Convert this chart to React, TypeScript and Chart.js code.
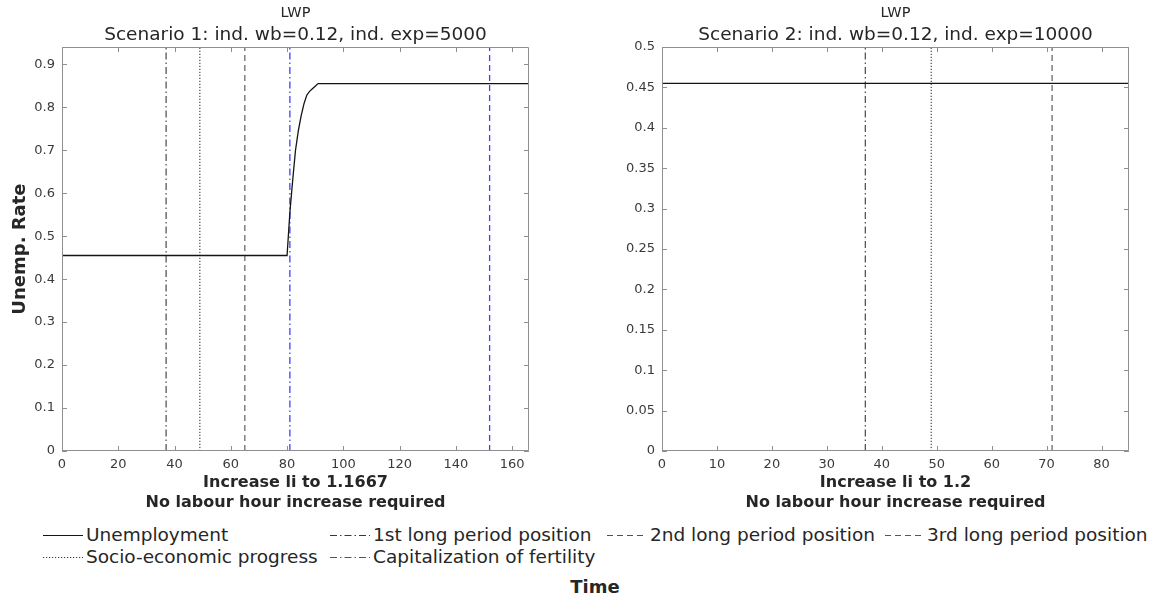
import React, { useEffect, useRef } from 'react';
import { Chart, registerables } from 'chart.js';

Chart.register(...registerables);

const FONT = "'DejaVu Sans', 'Liberation Sans', sans-serif";
const TEXT = '#262626';
const TICK_TEXT = '#3a3a3a';
const BOX = '#8f8f8f';

// ---------- Scenario 1 data ----------
const s1Time = [0, 80, 81, 82, 83, 84, 85, 86, 87, 88, 89, 90, 91, 166];
const s1Unemp = [0.455, 0.455, 0.555, 0.63, 0.7, 0.745, 0.78, 0.808, 0.828, 0.837, 0.843, 0.849, 0.855, 0.855];
const s1XTicks = [0, 20, 40, 60, 80, 100, 120, 140, 160];
const s1XLabels = ['0', '20', '40', '60', '80', '100', '120', '140', '160'];
const s1YTicks = [0, 0.1, 0.2, 0.3, 0.4, 0.5, 0.6, 0.7, 0.8, 0.9];
const s1YLabels = ['0', '0.1', '0.2', '0.3', '0.4', '0.5', '0.6', '0.7', '0.8', '0.9'];
const s1XMax = 166;
const s1YMax = 0.94;
const s1MarkerKeys = ['first', 'socio', 'second', 'capital', 'third'];
const s1MarkerTimes = [37, 49, 65, 81, 152];

// ---------- Scenario 2 data ----------
const s2Time = [0, 85];
const s2Unemp = [0.455, 0.455];
const s2XTicks = [0, 10, 20, 30, 40, 50, 60, 70, 80];
const s2XLabels = ['0', '10', '20', '30', '40', '50', '60', '70', '80'];
const s2YTicks = [0, 0.05, 0.1, 0.15, 0.2, 0.25, 0.3, 0.35, 0.4, 0.45, 0.5];
const s2YLabels = ['0', '0.05', '0.1', '0.15', '0.2', '0.25', '0.3', '0.35', '0.4', '0.45', '0.5'];
const s2XMax = 85;
const s2YMax = 0.5;
const s2MarkerKeys = ['first', 'socio', 'second'];
const s2MarkerTimes = [37, 49, 71];

// ---------- series styles & names ----------
const seriesNames: Record<string, string> = {
  unemp: 'Unemployment',
  first: '1st long period position',
  second: '2nd long period position',
  third: '3rd long period position',
  socio: 'Socio-economic progress',
  capital: 'Capitalization of fertility',
};
const seriesStyle: Record<string, { color: string; dash: number[]; width: number }> = {
  unemp: { color: '#141414', dash: [], width: 1.3 },
  first: { color: '#383838', dash: [7, 3, 1.5, 3], width: 1.1 },
  socio: { color: '#383838', dash: [1.2, 1.8], width: 1.1 },
  second: { color: '#505050', dash: [6, 4], width: 1.1 },
  capital: { color: '#4040ff', dash: [7, 3, 1.5, 3], width: 1.3 },
  third: { color: '#4040ff', dash: [6, 4], width: 1.3 },
};

const boxPlugin = {
  id: 'matlabBox',
  afterDatasetsDraw(chart: any) {
    const { ctx, chartArea } = chart;
    const { left, right, top, bottom } = chartArea;
    const xs = chart.scales.x;
    const ys = chart.scales.y;
    const TL = 5;
    ctx.save();
    ctx.strokeStyle = BOX;
    ctx.lineWidth = 1;
    ctx.beginPath();
    ctx.rect(Math.round(left) + 0.5, Math.round(top) + 0.5, Math.round(right - left) - 1, Math.round(bottom - top) - 1);
    ctx.stroke();
    ctx.beginPath();
    xs.ticks.forEach((t: any) => {
      const px = Math.round(xs.getPixelForValue(t.value)) + 0.5;
      ctx.moveTo(px, bottom);
      ctx.lineTo(px, bottom - TL);
      ctx.moveTo(px, top);
      ctx.lineTo(px, top + TL);
    });
    ys.ticks.forEach((t: any) => {
      const py = Math.round(ys.getPixelForValue(t.value)) + 0.5;
      ctx.moveTo(left, py);
      ctx.lineTo(left + TL, py);
      ctx.moveTo(right, py);
      ctx.lineTo(right - TL, py);
    });
    ctx.stroke();
    ctx.restore();
  },
};

type PanelProps = {
  time: number[];
  unemp: number[];
  xTicks: number[];
  xLabels: string[];
  yTicks: number[];
  yLabels: string[];
  xMax: number;
  yMax: number;
  markerKeys: string[];
  markerTimes: number[];
  subtitle: string;
  xTitle: string[];
  showYTitle: boolean;
  width: number;
  height: number;
  padRight: number;
  left: number;
};

function Panel(p: PanelProps) {
  const ref = useRef<HTMLCanvasElement | null>(null);
  useEffect(() => {
    if (!ref.current) return;
    const datasets: any[] = [
      {
        label: seriesNames.unemp,
        data: p.time.map((t, i) => ({ x: t, y: p.unemp[i] })),
        borderColor: seriesStyle.unemp.color,
        borderWidth: seriesStyle.unemp.width,
        borderDash: seriesStyle.unemp.dash,
        pointRadius: 0,
        tension: 0,
        fill: false,
      },
      ...p.markerKeys.map((k, i) => ({
        label: seriesNames[k],
        data: [
          { x: p.markerTimes[i], y: 0 },
          { x: p.markerTimes[i], y: p.yMax },
        ],
        borderColor: seriesStyle[k].color,
        borderWidth: seriesStyle[k].width,
        borderDash: seriesStyle[k].dash,
        pointRadius: 0,
        tension: 0,
        fill: false,
      })),
    ];
    const chart = new Chart(ref.current, {
      type: 'line',
      data: { datasets },
      plugins: [boxPlugin],
      options: {
        animation: false,
        responsive: false,
        devicePixelRatio: 1,
        layout: { padding: { left: 0, right: p.padRight, top: 0, bottom: 0 } },
        plugins: {
          legend: { display: false },
          tooltip: { enabled: false },
          title: {
            display: true,
            text: 'LWP',
            fullSize: false,
            color: TEXT,
            font: { family: FONT, size: 14.5, weight: 'normal', lineHeight: 1.2 },
            padding: { top: 5, bottom: 2 },
          },
          subtitle: {
            display: true,
            text: p.subtitle,
            fullSize: false,
            color: TEXT,
            font: { family: FONT, size: 18.5, weight: 'normal', lineHeight: 1.2 },
            padding: { top: 0, bottom: 0.5 },
          },
        },
        scales: {
          x: {
            type: 'linear',
            min: 0,
            max: p.xMax,
            afterBuildTicks: (s: any) => {
              s.ticks = p.xTicks.map((v) => ({ value: v }));
            },
            afterFit: (s: any) => {
              s.height = 64;
            },
            grid: { display: false, drawTicks: false },
            border: { display: false },
            ticks: {
              autoSkip: false,
              maxRotation: 0,
              padding: 6,
              color: TICK_TEXT,
              font: { family: FONT, size: 13 },
              callback: (_v: any, i: number) => p.xLabels[i],
            },
            title: {
              display: true,
              text: p.xTitle,
              color: TEXT,
              font: { family: FONT, size: 16, weight: 'bold', lineHeight: 1.2 },
              padding: { top: 0, bottom: 3 },
            },
          },
          y: {
            type: 'linear',
            min: 0,
            max: p.yMax,
            afterBuildTicks: (s: any) => {
              s.ticks = p.yTicks.map((v) => ({ value: v }));
            },
            afterFit: (s: any) => {
              s.width = 62;
            },
            grid: { display: false, drawTicks: false },
            border: { display: false },
            ticks: {
              autoSkip: false,
              padding: 7,
              color: TICK_TEXT,
              font: { family: FONT, size: 13 },
              callback: (_v: any, i: number) => p.yLabels[i],
            },
            title: {
              display: p.showYTitle,
              text: 'Unemp. Rate',
              color: TEXT,
              font: { family: FONT, size: 18, weight: 'bold', lineHeight: 1.2 },
              padding: { top: 10, bottom: 0 },
            },
          },
        },
      } as any,
    });
    return () => chart.destroy();
  }, []);
  return (
    <canvas
      ref={ref}
      width={p.width}
      height={p.height}
      style={{ position: 'absolute', left: p.left, top: 0, width: p.width, height: p.height }}
    />
  );
}

const legendLayout = [
  { key: 'unemp', lineX: 43, textX: 86, cy: 535 },
  { key: 'first', lineX: 330, textX: 373, cy: 535 },
  { key: 'second', lineX: 607, textX: 650, cy: 535 },
  { key: 'third', lineX: 885, textX: 927, cy: 535 },
  { key: 'socio', lineX: 43, textX: 86, cy: 557 },
  { key: 'capital', lineX: 330, textX: 373, cy: 557 },
];

function Legend() {
  return (
    <>
      {legendLayout.map((it) => {
        const st = seriesStyle[it.key];
        return (
          <React.Fragment key={it.key}>
            <svg
              width={40}
              height={6}
              style={{ position: 'absolute', left: it.lineX, top: it.cy - 3 }}
            >
              <line
                x1={0}
                y1={3.5}
                x2={40}
                y2={3.5}
                stroke={st.color}
                strokeWidth={1.2}
                strokeDasharray={st.dash.length ? st.dash.join(' ') : undefined}
              />
            </svg>
            <div
              style={{
                position: 'absolute',
                left: it.textX,
                top: it.cy - 11,
                height: 22,
                lineHeight: '22px',
                fontFamily: FONT,
                fontSize: 18.5,
                color: TEXT,
                whiteSpace: 'nowrap',
              }}
            >
              {seriesNames[it.key]}
            </div>
          </React.Fragment>
        );
      })}
    </>
  );
}

export default function App() {
  return (
    <div
      style={{
        position: 'absolute',
        left: 0,
        top: 0,
        width: 1154,
        height: 599,
        background: '#ffffff',
        overflow: 'hidden',
      }}
    >
      <Panel
        time={s1Time}
        unemp={s1Unemp}
        xTicks={s1XTicks}
        xLabels={s1XLabels}
        yTicks={s1YTicks}
        yLabels={s1YLabels}
        xMax={s1XMax}
        yMax={s1YMax}
        markerKeys={s1MarkerKeys}
        markerTimes={s1MarkerTimes}
        subtitle="Scenario 1: ind. wb=0.12, ind. exp=5000"
        xTitle={['Increase li to 1.1667', 'No labour hour increase required']}
        showYTitle={true}
        width={560}
        height={515}
        padRight={31}
        left={0}
      />
      <Panel
        time={s2Time}
        unemp={s2Unemp}
        xTicks={s2XTicks}
        xLabels={s2XLabels}
        yTicks={s2YTicks}
        yLabels={s2YLabels}
        xMax={s2XMax}
        yMax={s2YMax}
        markerKeys={s2MarkerKeys}
        markerTimes={s2MarkerTimes}
        subtitle="Scenario 2: ind. wb=0.12, ind. exp=10000"
        xTitle={['Increase li to 1.2', 'No labour hour increase required']}
        showYTitle={false}
        width={554}
        height={515}
        padRight={25}
        left={600}
      />
      <Legend />
      <div
        style={{
          position: 'absolute',
          left: 545,
          width: 100,
          top: 576,
          height: 22,
          lineHeight: '22px',
          textAlign: 'center',
          fontFamily: FONT,
          fontSize: 18,
          fontWeight: 'bold',
          color: TEXT,
        }}
      >
        Time
      </div>
    </div>
  );
}
